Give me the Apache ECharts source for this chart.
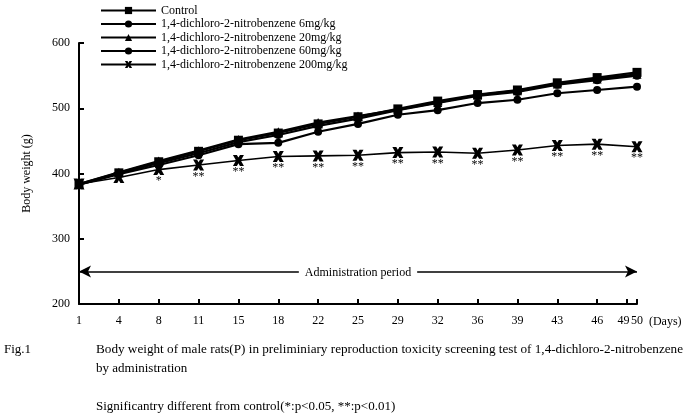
<!DOCTYPE html>
<html>
<head>
<meta charset="utf-8">
<script src="https://cdn.jsdelivr.net/npm/echarts@6/dist/echarts.min.js"></script>
<style>
html,body{margin:0;padding:0;background:#fff;}
#chart{width:696px;height:417px;}
</style>
</head>
<body>
<div id="chart"></div>
<script>
// Sampling days and axis tick labels
const sampleDays = [1, 4, 8, 11, 15, 18, 22, 25, 29, 32, 36, 39, 43, 46, 50];
const tickDays   = [1, 4, 8, 11, 15, 18, 22, 25, 29, 32, 36, 39, 43, 46, 49, 50];
const extraLabelDays = [49];
const yTicks = [200, 300, 400, 500, 600];

const seriesNames = [
  'Control',
  '1,4-dichloro-2-nitrobenzene 6mg/kg',
  '1,4-dichloro-2-nitrobenzene 20mg/kg',
  '1,4-dichloro-2-nitrobenzene 60mg/kg',
  '1,4-dichloro-2-nitrobenzene 200mg/kg'
];
const control = [384, 401, 418, 434, 451, 462, 476, 487, 499, 511, 521, 528, 539, 547, 555];
const dose6   = [383, 400, 416, 431, 448, 459, 473, 484, 497, 508, 519, 525, 536, 543, 550];
const dose20  = [384, 402, 419, 435, 452, 464, 478, 488, 498, 509, 520, 527, 537, 545, 552];
const dose60  = [383, 399, 413, 428, 445, 447, 464, 476, 490, 497, 508, 513, 523, 528, 533];
const dose200 = [384, 394, 406, 413, 420, 426, 427, 428, 432, 433, 431, 436, 443, 445, 441];
const sig200  = ['', '', '*', '**', '**', '**', '**', '**', '**', '**', '**', '**', '**', '**', '**'];

const adminStartDay = 1, adminEndDay = 50, adminLevel = 250;
const adminLabel = 'Administration period';

// Piecewise mapping of day -> axis position (sampling days evenly spaced, as in the original)
function dayToPos(d) {
  for (let i = 0; i < sampleDays.length - 1; i++) {
    const a = sampleDays[i], b = sampleDays[i + 1];
    if (d >= a && d <= b) return i + (d - a) / (b - a);
  }
  return sampleDays.length - 1;
}
const tickPos = tickDays.map(dayToPos);
const mainLabelDays = tickDays.filter(d => extraLabelDays.indexOf(d) < 0);
const mainLabelPos = mainLabelDays.map(dayToPos);
const extraLabelPos = extraLabelDays.map(dayToPos);
function posToLabel(v) {
  for (let i = 0; i < tickPos.length; i++) if (Math.abs(tickPos[i] - v) < 1e-6) return String(tickDays[i]);
  return '';
}

const FONT = 'Liberation Serif';
const sym200 = 'path://M0,0 L3.6,0 L5,2.4 L6.4,0 L10,0 L7.2,5 L10,10 L6.4,10 L5,7.6 L3.6,10 L0,10 L2.8,5 Z';

function mk(name, vals, symbol, size, width) {
  return {
    name: name, type: 'line',
    data: sampleDays.map((d, i) => [dayToPos(d), vals[i]]),
    symbol: symbol, symbolSize: size, showAllSymbol: true,
    lineStyle: {color: '#000', width: width},
    itemStyle: {color: '#000'},
    emphasis: {disabled: true},
    animation: false
  };
}

const s200 = mk(seriesNames[4], dose200, sym200, 11, 1.6);
s200.label = {
  show: true, position: 'bottom', distance: 0,
  formatter: p => sig200[p.dataIndex],
  fontFamily: FONT, fontSize: 12, color: '#000'
};
const sControl = mk(seriesNames[0], control, 'rect', 9, 2.2);
sControl.markLine = {
  silent: true, animation: false,
  symbol: ['arrow', 'arrow'], symbolSize: [9, 12],
  lineStyle: {color: '#000', width: 1.5, type: 'solid'},
  label: {
    show: true, position: 'middle', formatter: adminLabel,
    fontFamily: FONT, fontSize: 12, color: '#000',
    backgroundColor: '#fff', padding: [2, 6], distance: -9
  },
  data: [[{coord: [dayToPos(adminStartDay), adminLevel]}, {coord: [dayToPos(adminEndDay), adminLevel]}]]
};

const labelStyle = {fontFamily: FONT, fontSize: 12, color: '#000', margin: 11};

const option = {
  backgroundColor: '#fff',
  animation: false,
  textStyle: {fontFamily: FONT},
  legend: {
    orient: 'vertical', left: 95, top: -1,
    itemWidth: 55, itemHeight: 9, itemGap: 0.5,
    textStyle: {fontFamily: FONT, fontSize: 12, color: '#000', lineHeight: 13},
    data: seriesNames
  },
  grid: {left: 79, right: 59, top: 43, bottom: 113},
  xAxis: [{
    type: 'value', min: 0, max: sampleDays.length - 1,
    name: '(Days)', nameLocation: 'end', nameGap: 10,
    nameTextStyle: {fontFamily: FONT, fontSize: 12, color: '#000', verticalAlign: 'top', padding: [12, 0, 0, 0]},
    axisLine: {lineStyle: {color: '#000', width: 2}},
    axisTick: {show: true, inside: true, length: 5, customValues: tickPos, lineStyle: {color: '#000', width: 2}},
    axisLabel: Object.assign({customValues: mainLabelPos, formatter: posToLabel, showMaxLabel: true, showMinLabel: true}, labelStyle),
    splitLine: {show: false}
  }, {
    type: 'value', min: 0, max: sampleDays.length - 1, position: 'bottom',
    axisLine: {show: false}, axisTick: {show: false}, splitLine: {show: false},
    axisLabel: Object.assign({customValues: extraLabelPos, formatter: posToLabel}, labelStyle, {padding: [0, 7, 0, 0]})
  }],
  yAxis: {
    type: 'value', min: 200, max: 600, interval: 100,
    name: 'Body weight (g)', nameLocation: 'middle', nameGap: 46,
    nameTextStyle: {fontFamily: FONT, fontSize: 12, color: '#000'},
    axisLine: {show: true, lineStyle: {color: '#000', width: 2}},
    axisTick: {show: true, inside: true, length: 5, lineStyle: {color: '#000', width: 2}},
    axisLabel: {fontFamily: FONT, fontSize: 12, color: '#000', margin: 9,
      formatter: v => yTicks.indexOf(v) >= 0 ? String(v) : ''},
    splitLine: {show: false}
  },
  graphic: [
    {type: 'text', left: 4, top: 343, style: {text: 'Fig.1', font: '13px "Liberation Serif"', fill: '#000'}},
    {type: 'text', left: 96, top: 343, style: {text: 'Body weight of male rats(P) in preliminiary reproduction toxicity screening test of 1,4-dichloro-2-nitrobenzene', font: '13.2px "Liberation Serif"', fill: '#000'}},
    {type: 'text', left: 96, top: 362, style: {text: 'by administration', font: '13px "Liberation Serif"', fill: '#000'}},
    {type: 'text', left: 96, top: 400, style: {text: 'Significantry different from control(*:p<0.05, **:p<0.01)', font: '13px "Liberation Serif"', fill: '#000'}}
  ],
  series: [
    sControl,
    mk(seriesNames[1], dose6, 'circle', 8, 2.2),
    mk(seriesNames[2], dose20, 'triangle', 9, 2.2),
    mk(seriesNames[3], dose60, 'circle', 8, 2.2),
    s200
  ]
};

const chart = echarts.init(document.getElementById('chart'), null, {renderer: 'canvas'});
chart.setOption(option);
</script>
</body>
</html>
